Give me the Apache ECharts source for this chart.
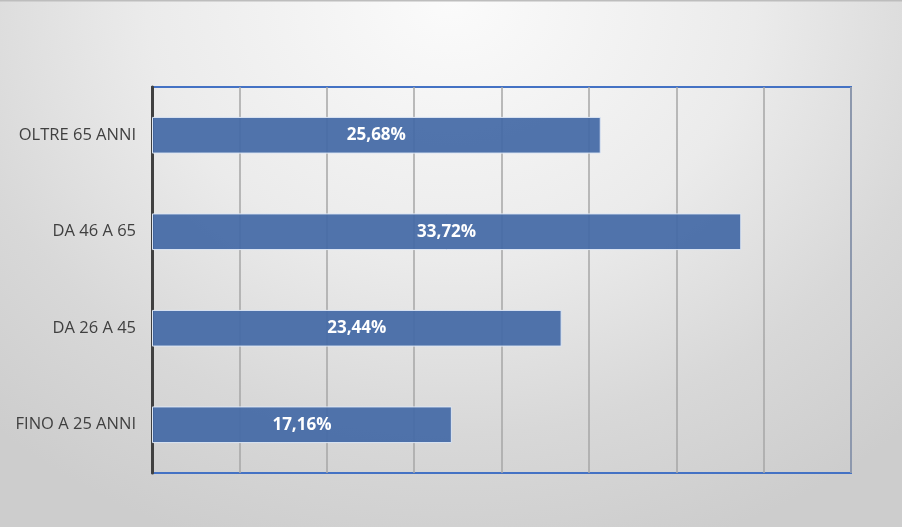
<!DOCTYPE html>
<html><head><meta charset="utf-8">
<script src="https://cdn.jsdelivr.net/npm/echarts@6/dist/echarts.min.js"></script>
<style>html,body{margin:0;padding:0;}
#c{width:902px;height:527px;background:radial-gradient(ellipse 75% 110% at 50% 0%, #FBFBFB 0%, #EBEBEB 45%, #D8D8D8 75%, #CDCDCD 100%);}</style>
</head><body><div id="c"></div>
<script>
var categories = ['FINO A 25 ANNI', 'DA 26 A 45', 'DA 46 A 65', 'OLTRE 65 ANNI'];
var values = [17.16, 23.44, 33.72, 25.68];
var labels = ['17,16%', '23,44%', '33,72%', '25,68%'];
var axisMax = 40;
var axisStep = 5;

var chart = echarts.init(document.getElementById('c'));
chart.setOption({
  backgroundColor: 'transparent',
  graphic: [{type: 'rect', shape: {x: 0, y: 0, width: 902, height: 1.5}, style: {fill: '#BDBDBD'}, silent: true}],
  grid: {left: 152, right: 51, top: 87, bottom: 54, show: true, borderColor: '#4472C4', borderWidth: 2, backgroundColor: 'transparent'},
  xAxis: {
    type: 'value', min: 0, max: axisMax, interval: axisStep,
    axisLabel: {show: false}, axisLine: {show: false}, axisTick: {show: false},
    splitLine: {show: true, lineStyle: {color: '#A6A6A6', width: 1.5}}
  },
  yAxis: {
    type: 'category', data: categories,
    axisLine: {show: true, onZero: false, lineStyle: {color: '#404040', width: 3}},
    axisTick: {show: false},
    axisLabel: {color: '#404040', fontSize: 16.5, fontFamily: 'Open Sans, Liberation Sans, sans-serif', margin: 16}
  },
  series: [{
    type: 'bar', data: values, barWidth: '38%',
    itemStyle: {color: 'rgba(68,105,166,0.93)', borderColor: '#DDE6F4', borderWidth: 1},
    label: {show: true, position: 'inside', color: '#FFFFFF', fontWeight: 'bold', fontSize: 17,
      fontFamily: 'Open Sans, Liberation Sans, sans-serif',
      formatter: function(p){ return labels[p.dataIndex]; }},
    z: 3
  }],
  animation: false
});
</script></body></html>
